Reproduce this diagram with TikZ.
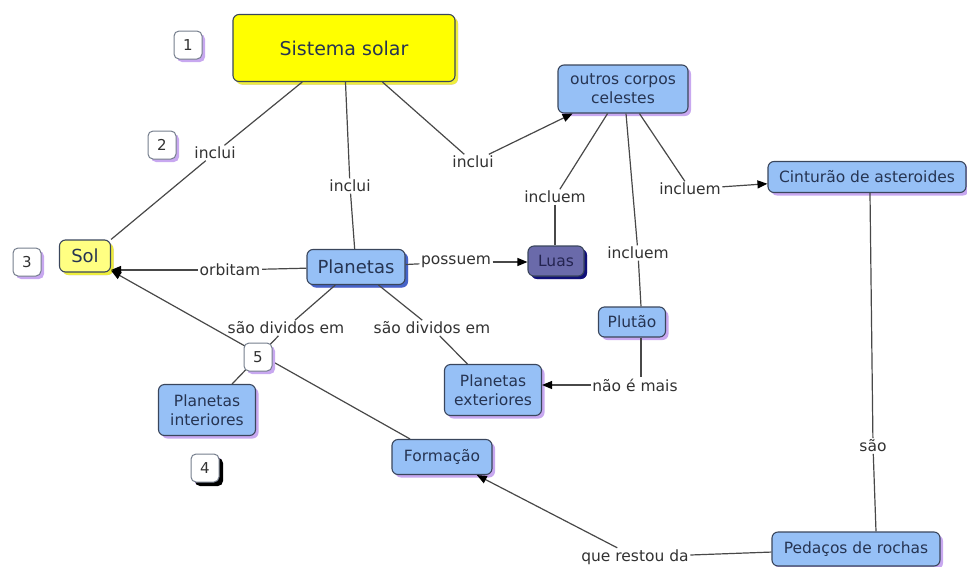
\documentclass[tikz,border=0pt]{standalone}
\usepackage{fontspec}
\setmainfont{DejaVu Sans}
\usetikzlibrary{arrows.meta,shadows}

\definecolor{conceptblue}{RGB}{150,192,246}
\definecolor{bordercol}{RGB}{58,70,92}
\definecolor{nodetext}{RGB}{38,52,82}
\definecolor{labeltext}{RGB}{50,50,50}
\definecolor{linecol}{RGB}{72,72,72}
\definecolor{lavender}{RGB}{200,168,240}
\definecolor{sysyellow}{RGB}{255,255,0}
\definecolor{solyellow}{RGB}{255,255,130}
\definecolor{yelshadow}{RGB}{238,238,60}
\definecolor{lunafill}{RGB}{106,106,170}
\definecolor{lunatext}{RGB}{36,36,80}
\definecolor{lunashadow}{RGB}{16,16,120}
\definecolor{planshadow}{RGB}{70,100,200}

\begin{document}
\begin{tikzpicture}[x=1pt,y=-1pt,
  concept/.style={draw=bordercol, line width=1.1pt, rounded corners=6pt,
    fill=conceptblue, text=nodetext, align=center, inner sep=0pt,
    font=\fontsize{15.5}{19}\selectfont,
    drop shadow={shadow xshift=3pt, shadow yshift=-3pt, fill=lavender, opacity=1}},
  linklabel/.style={fill=white, text=labeltext, inner sep=1.5pt,
    font=\fontsize{15.5}{18}\selectfont},
  badge/.style={draw=bordercol!70, line width=1pt, rounded corners=5pt, fill=white,
    text=labeltext, minimum size=28pt, inner sep=0pt,
    font=\fontsize{15}{18}\selectfont,
    drop shadow={shadow xshift=3pt, shadow yshift=-3pt, fill=lavender, opacity=1}},
  conn/.style={draw=linecol, line width=1.2pt},
  arr/.style={conn, -{Triangle[length=10pt,width=8pt,color=black,fill=black]}}
]
\useasboundingbox (0,0) rectangle (967,566);

% concepts
\node[concept, fill=sysyellow, minimum width=222pt, minimum height=67pt,
  font=\fontsize{19}{22}\selectfont,
  drop shadow={shadow xshift=3pt, shadow yshift=-3pt, fill=yelshadow, opacity=1}]
  (sis) at (344,48) {Sistema solar};
\node[concept, fill=solyellow, minimum width=51pt, minimum height=32pt,
  font=\fontsize{18}{20}\selectfont,
  drop shadow={shadow xshift=3pt, shadow yshift=-3pt, fill=yelshadow, opacity=1}]
  (sol) at (85,256) {Sol};
\node[concept, minimum width=98pt, minimum height=35pt,
  font=\fontsize{18}{20}\selectfont,
  drop shadow={shadow xshift=3pt, shadow yshift=-3pt, fill=planshadow, opacity=1}]
  (plan) at (356,267) {Planetas};
\node[concept, minimum width=130pt, minimum height=48pt] (outros) at (623,89) {outros corpos\\celestes};
\node[concept, fill=lunafill, text=lunatext, minimum width=56pt, minimum height=30pt,
  drop shadow={shadow xshift=3pt, shadow yshift=-3pt, fill=lunashadow, opacity=1}]
  (luas) at (556,261) {Luas};
\node[concept, minimum width=198pt, minimum height=31pt] (cint) at (867,177) {Cinturão de asteroides};
\node[concept, minimum width=67pt, minimum height=30pt] (plut) at (632,322) {Plutão};
\node[concept, minimum width=97pt, minimum height=51pt] (pext) at (493,390) {Planetas\\exteriores};
\node[concept, minimum width=97pt, minimum height=51pt] (pint) at (207,410) {Planetas\\interiores};
\node[concept, minimum width=100pt, minimum height=35pt] (form) at (442,457) {Formação};
\node[concept, minimum width=168pt, minimum height=34pt] (ped) at (856,549) {Pedaços de rochas};

% linking phrases
\node[linklabel] (l1) at (215,153) {inclui};
\node[linklabel] (l2) at (350,186) {inclui};
\node[linklabel] (l3) at (473,162) {inclui};
\node[linklabel] (l4) at (230,270) {orbitam};
\node[linklabel] (l5) at (456,262) {possuem};
\node[linklabel] (l6) at (555,197) {incluem};
\node[linklabel] (l7) at (638,253) {incluem};
\node[linklabel] (l8) at (690,189) {incluem};
\node[linklabel] (l9) at (286,328) {são dividos em};
\node[linklabel] (l10) at (432,328) {são dividos em};
\node[linklabel] (l11) at (635,385) {não é mais};
\node[linklabel] (l12) at (873,446) {são};
\node[linklabel] (l13) at (635,557) {que restou da};

% connectors
\draw[conn] (sis) -- (l1);
\draw[conn] (l1) -- (sol.north east);
\draw[conn] (sis) -- (l2);
\draw[conn] (l2) -- (plan);
\draw[conn] (sis) -- (l3);
\draw[arr] (l3) -- (outros);
\draw[conn] (outros) -- (l6);
\draw[conn] (l6) -- (l6 |- luas.north);
\draw[conn] ([xshift=3pt]outros.south) -- (l7);
\draw[conn] (l7) -- ([xshift=9pt]plut.north);
\draw[conn] (outros) -- (l8);
\draw[arr] (l8) -- (cint);
\draw[conn] (plan) -- (l5);
\draw[arr] (l5) -- (l5 -| luas.west);
\draw[conn] (plan) -- (l4);
\draw[arr] (l4) -- (l4 -| sol.east);
\draw[conn] (plan) -- (l9);
\draw[conn] (l9) -- (pint);
\draw[conn] (plan) -- (l10);
\draw[conn] (l10) -- (pext);
\draw[conn] ([xshift=9pt]plut.south) -- ([xshift=9pt]plut.south |- l11.north);
\draw[arr] (l11) -- (l11 -| pext.east);
\draw[conn] ([xshift=3pt]cint.south) -- (l12);
\draw[conn] (l12) -- ([xshift=20pt]ped.north);
\draw[conn] (ped) -- (l13);
\draw[arr] (l13) -- (form);
\draw[arr] (form) -- (sol);

% numbered badges
\node[badge] (b1) at (188,45) {1};
\node[badge] (b2) at (162,145) {2};
\node[badge] (b3) at (27,262) {3};
\node[badge, drop shadow={shadow xshift=4pt, shadow yshift=-4pt, fill=black, opacity=1}]
  (b4) at (205,468) {4};
\node[badge] (b5) at (258,357) {5};
\end{tikzpicture}
\end{document}
